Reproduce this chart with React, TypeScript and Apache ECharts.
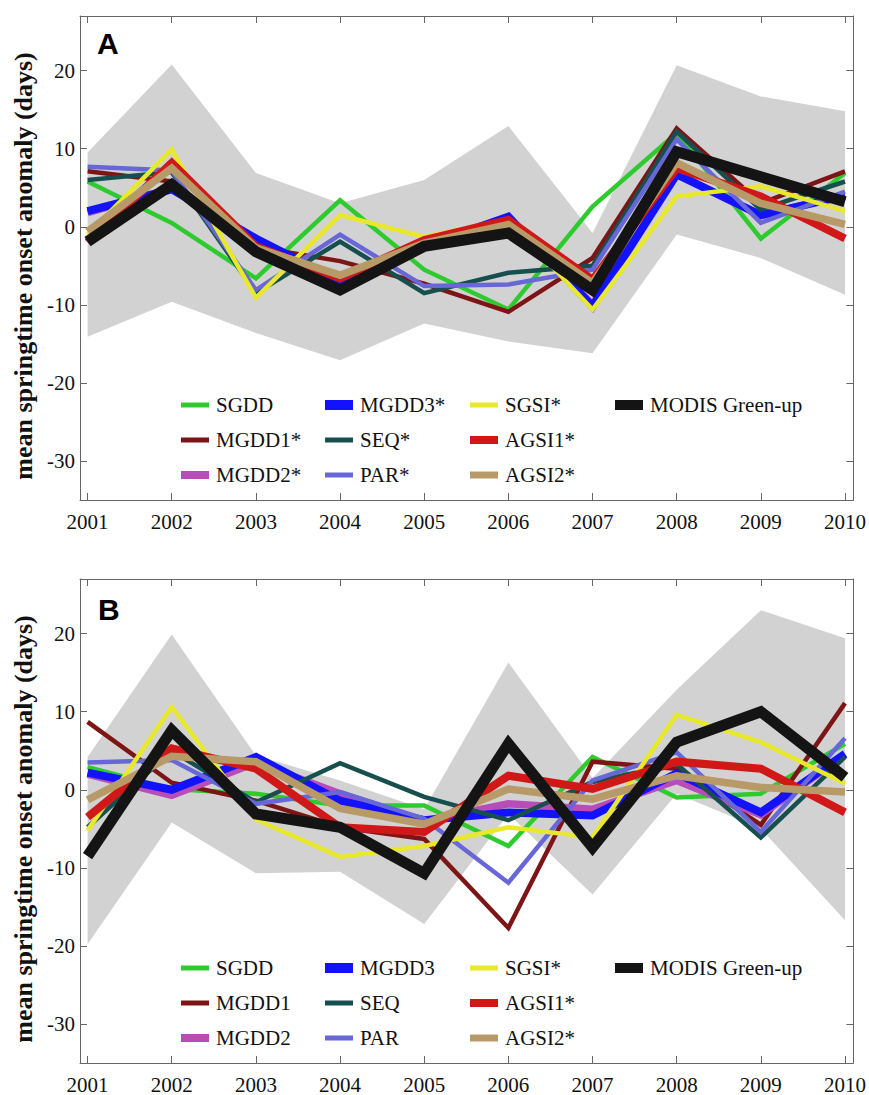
import React, { useEffect, useRef } from 'react';
import * as echarts from 'echarts';

// ---------- data ----------
const years = [2001, 2002, 2003, 2004, 2005, 2006, 2007, 2008, 2009, 2010];
const yTicks = [-30, -20, -10, 0, 10, 20];

const namesA = ['SGDD', 'MGDD1*', 'MGDD2*', 'MGDD3*', 'SEQ*', 'PAR*', 'SGSI*', 'AGSI1*', 'AGSI2*', 'MODIS Green-up'];
const namesB = ['SGDD', 'MGDD1', 'MGDD2', 'MGDD3', 'SEQ', 'PAR', 'SGSI*', 'AGSI1*', 'AGSI2*', 'MODIS Green-up'];

// Panel A
const aSGDD = [5.8, 0.5, -6.6, 3.4, -5.5, -10.6, 2.6, 12.0, -1.5, 6.9];
const aMGDD1 = [7.1, 5.8, -2.6, -4.4, -7.3, -10.9, -4.0, 12.6, 3.0, 7.1];
const aMGDD2 = [1.8, 4.9, -1.6, -6.9, -2.6, 1.2, -10.0, 6.8, 1.4, 4.1];
const aMGDD3 = [2.0, 4.8, -1.5, -7.0, -2.5, 1.3, -10.2, 6.7, 1.5, 4.0];
const aSEQ = [6.0, 7.0, -8.5, -1.9, -8.5, -5.9, -5.0, 12.2, 2.2, 5.8];
const aPAR = [7.7, 7.2, -8.1, -1.0, -7.6, -7.4, -5.5, 11.2, 0.5, 4.5];
const aSGSI = [-1.0, 9.9, -9.1, 1.5, -1.3, 0.9, -10.6, 3.9, 5.2, 2.0];
const aAGSI1 = [-2.0, 8.2, -2.5, -6.6, -1.7, 0.9, -6.8, 7.5, 3.9, -1.5];
const aAGSI2 = [-0.6, 7.5, -2.7, -6.2, -2.1, 0.3, -7.2, 8.2, 3.0, 0.3];
const aMODIS = [-1.9, 5.4, -3.2, -8.1, -2.5, -0.8, -8.1, 9.6, 6.4, 3.2];
const aUpper = [9.5, 20.8, 6.9, 3.0, 6.0, 12.9, -0.8, 20.7, 16.7, 14.8];
const aLower = [-14.1, -9.6, -13.6, -17.1, -12.4, -14.7, -16.2, -1.0, -4.0, -8.7];

// Panel B
const bSGDD = [2.9, 0.1, -0.5, -2.0, -2.0, -7.2, 4.2, -1.0, -0.5, 5.9];
const bMGDD1 = [8.7, 0.9, -1.4, -4.8, -6.3, -17.7, 3.6, 2.7, -4.5, 11.1];
const bMGDD2 = [2.0, -0.7, 3.5, -0.5, -4.0, -1.8, -2.5, 1.2, -3.2, 4.5];
const bMGDD3 = [2.2, 0.0, 4.2, -1.4, -3.9, -2.9, -3.3, 2.1, -2.9, 4.6];
const bSEQ = [-4.8, 5.0, -1.6, 3.4, -0.9, -3.9, 1.0, 3.3, -6.1, 4.2];
const bPAR = [3.5, 3.8, -1.8, -0.3, -3.7, -11.9, 1.2, 4.8, -5.4, 6.6];
const bSGSI = [-5.2, 10.6, -3.8, -8.6, -7.2, -4.8, -6.1, 9.6, 6.1, 0.8];
const bAGSI1 = [-3.5, 5.3, 2.7, -4.8, -5.4, 1.8, 0.1, 3.6, 2.7, -2.9];
const bAGSI2 = [-1.3, 4.3, 3.6, -2.4, -4.4, 0.1, -1.2, 1.8, 0.3, -0.3];
const bMODIS = [-8.5, 7.6, -3.1, -4.8, -10.7, 5.9, -7.4, 6.1, 10.0, 1.6];
const bUpper = [4.2, 19.9, 4.4, 1.2, -2.5, 16.3, 1.5, 12.8, 23.0, 19.4];
const bLower = [-19.8, -4.2, -10.7, -10.5, -17.2, -3.1, -13.4, -0.5, -5.0, -16.7];

const valuesA = [aSGDD, aMGDD1, aMGDD2, aMGDD3, aSEQ, aPAR, aSGSI, aAGSI1, aAGSI2, aMODIS];
const valuesB = [bSGDD, bMGDD1, bMGDD2, bMGDD3, bSEQ, bPAR, bSGSI, bAGSI1, bAGSI2, bMODIS];

// ---------- styles ----------
const colors = ['#2ecb2e', '#7d1416', '#b84db8', '#1212ff', '#174f4f', '#6767d8', '#e9e92b', '#d11818', '#b89a68', '#141414'];
const widths = [4.5, 4.5, 7.5, 8, 4.5, 4.5, 4.5, 8, 7.5, 11];
const iconH = [5, 5, 8, 10, 5, 5, 5, 8, 7, 10];

const SERIF = 'Liberation Serif, Times New Roman, Times, serif';
const SANS = 'Liberation Sans, Arial, Helvetica, sans-serif';
const AXIS_COLOR = '#666';
const BAND_COLOR = '#d2d2d2';
const yLabel = 'mean springtime onset anomaly (days)';

const gridTops = [16, 579];
const gridH = 484;
const legendLefts = [181, 325, 470, 615];
const legendCols = [[0, 1, 2], [3, 4, 5], [6, 7, 8], [9]];

function pairs(vals: number[]) {
  return years.map((y, i) => [y, vals[i]]);
}

function buildOption() {
  const xAxis: any[] = [];
  const yAxis: any[] = [];
  const series: any[] = [];
  const legend: any[] = [];
  const grid: any[] = [];
  const panels = [
    { names: namesA, values: valuesA, upper: aUpper, lower: aLower },
    { names: namesB, values: valuesB, upper: bUpper, lower: bLower },
  ];

  panels.forEach((p, g) => {
    grid.push({ left: 80, top: gridTops[g], width: 775, height: gridH });
    const baseX = {
      type: 'value', gridIndex: g, min: 2000.91, max: 2010.1,
      axisLine: { show: true, onZero: false, lineStyle: { color: AXIS_COLOR, width: 1 } },
      axisTick: { show: true, inside: true, length: 7, customValues: years, lineStyle: { color: AXIS_COLOR } },
      splitLine: { show: false },
    };
    xAxis.push({
      ...baseX, position: 'bottom',
      axisLabel: { show: true, customValues: years, formatter: (v: number) => String(v), fontFamily: SERIF, fontSize: 21, color: '#111', margin: 11 },
    });
    xAxis.push({ ...baseX, position: 'top', axisLabel: { show: false } });
    const baseY = {
      type: 'value', gridIndex: g, min: -35, max: 27,
      axisLine: { show: true, onZero: false, lineStyle: { color: AXIS_COLOR, width: 1 } },
      axisTick: { show: true, inside: true, length: 7, customValues: yTicks, lineStyle: { color: AXIS_COLOR } },
      splitLine: { show: false },
    };
    yAxis.push({
      ...baseY, position: 'left',
      axisLabel: { show: true, customValues: yTicks, formatter: (v: number) => String(v), fontFamily: SERIF, fontSize: 21, color: '#111', margin: 5 },
    });
    yAxis.push({ ...baseY, position: 'right', axisLabel: { show: false } });

    const xi = g * 2;
    const yi = g * 2;
    const upper = p.upper;
    const lower = p.lower;
    series.push({
      type: 'custom', name: 'range' + g, coordinateSystem: 'cartesian2d', xAxisIndex: xi, yAxisIndex: yi,
      data: [[years[0], upper[0]]], silent: true, z: 1, clip: true,
      renderItem: (_params: any, api: any) => {
        const pts: number[][] = [];
        years.forEach((y, i) => pts.push(api.coord([y, upper[i]])));
        for (let i = years.length - 1; i >= 0; i--) pts.push(api.coord([years[i], lower[i]]));
        return { type: 'polygon', shape: { points: pts }, style: { fill: BAND_COLOR, stroke: 'none' }, silent: true };
      },
    });
    p.names.forEach((name, i) => {
      series.push({
        type: 'line', name, xAxisIndex: xi, yAxisIndex: yi, data: pairs(p.values[i]),
        symbol: 'none', showSymbol: false, silent: true,
        lineStyle: { color: colors[i], width: widths[i], join: 'miter', cap: 'butt' },
        itemStyle: { color: colors[i] }, z: 3,
      });
    });

    const legendTop = (g === 0 ? 394 : 957);
    legendCols.forEach((col, c) => {
      legend.push({
        orient: 'vertical', left: legendLefts[c], top: legendTop, itemWidth: 28, itemHeight: 22, itemGap: 13,
        padding: 0, selectedMode: false,
        textStyle: { fontFamily: SERIF, fontSize: 21, color: '#111', lineHeight: 22, padding: [0, 0, 0, 2] },
        data: col.map((i) => ({
          name: p.names[i],
          icon: `path://M0,0H28V${iconH[i]}H0Z`,
          itemStyle: { color: colors[i], borderWidth: 0 },
        })),
      });
    });
  });

  const graphic: any[] = [
    { type: 'text', x: 23, y: 266, rotation: Math.PI / 2, style: { text: yLabel, font: `bold 26px ${SERIF}`, fill: '#111', textAlign: 'center', textVerticalAlign: 'middle' } },
    { type: 'text', x: 23, y: 829, rotation: Math.PI / 2, style: { text: yLabel, font: `bold 26px ${SERIF}`, fill: '#111', textAlign: 'center', textVerticalAlign: 'middle' } },
    { type: 'text', x: 97, y: 43, style: { text: 'A', font: `bold 30px ${SANS}`, fill: '#000', textAlign: 'left', textVerticalAlign: 'middle' } },
    { type: 'text', x: 98, y: 609, style: { text: 'B', font: `bold 30px ${SANS}`, fill: '#000', textAlign: 'left', textVerticalAlign: 'middle' } },
  ];

  return {
    animation: false,
    backgroundColor: '#ffffff',
    grid, xAxis, yAxis, series, legend, graphic,
  };
}

export default function App() {
  const ref = useRef<HTMLDivElement>(null);
  useEffect(() => {
    if (!ref.current) return;
    const chart = echarts.init(ref.current, undefined, { renderer: 'svg' });
    chart.setOption(buildOption() as any);
    return () => chart.dispose();
  }, []);
  return (
    <div
      ref={ref}
      style={{ position: 'absolute', left: 0, top: 0, width: 869, height: 1095, background: '#fff' }}
    />
  );
}
